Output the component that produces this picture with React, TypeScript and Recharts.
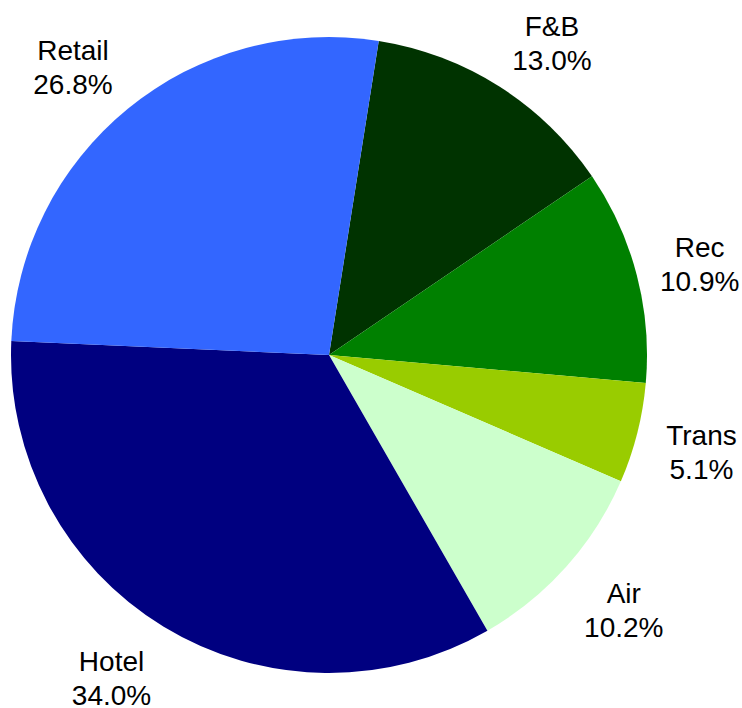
import React from 'react';
import { PieChart, Pie, Cell } from 'recharts';

const categories = ['F&B', 'Rec', 'Trans', 'Air', 'Hotel', 'Retail'];
const shares = [13.0, 10.9, 5.1, 10.2, 34.0, 26.8];
const colors = ['#003300', '#008000', '#99CC00', '#CCFFCC', '#000080', '#3366FF'];

const data = categories.map((name, i) => ({ name, value: shares[i] }));

const RAD = Math.PI / 180;
const FONT = 28;

function approxWidth(s: string) {
  // rough Arial advance widths
  let w = 0;
  for (const ch of s) {
    if ('0123456789'.includes(ch)) w += 0.556;
    else if (ch === '.') w += 0.278;
    else if (ch === '%') w += 0.889;
    else if ('il'.includes(ch)) w += 0.222;
    else if ('t'.includes(ch)) w += 0.278;
    else if ('FBTRH&'.includes(ch)) w += 0.7;
    else w += 0.556;
  }
  return w * FONT;
}

const renderLabel = (props: any) => {
  const { cx, cy, midAngle, outerRadius, name, value } = props;
  const cos = Math.cos(midAngle * RAD);
  const sin = Math.sin(midAngle * RAD);
  const pct = `${Number(value).toFixed(1)}%`;
  const a = Math.max(approxWidth(name), approxWidth(pct)) / 2;
  const b = 27;
  const R = outerRadius + 24;
  const px = cx + R * cos;
  const py = cy - R * sin;
  const sx = Math.max(-1, Math.min(1, cos * 3));
  const sy = Math.max(-1, Math.min(1, sin * 1.3));
  const bx = px + a * sx;
  const by = py - b * sy + 4;
  return (
    <text
      x={bx}
      y={by}
      textAnchor="middle"
      fill="#000"
      fontFamily="'Liberation Sans', Arial, sans-serif"
      fontSize={FONT}
    >
      <tspan x={bx} y={by - 7}>{name}</tspan>
      <tspan x={bx} y={by + 27}>{pct}</tspan>
    </text>
  );
};

export default function App() {
  return (
    <div style={{ position: 'absolute', left: 0, top: 0, width: 742, height: 708, background: '#fff' }}>
      <PieChart width={742} height={708} margin={{ top: 0, right: 0, bottom: 0, left: 0 }}>
        <Pie
          data={data}
          dataKey="value"
          nameKey="name"
          cx={329}
          cy={355}
          outerRadius={318}
          startAngle={81}
          endAngle={-279}
          stroke="none"
          label={renderLabel}
          labelLine={false}
          isAnimationActive={false}
        >
          {data.map((d, i) => (
            <Cell key={d.name} fill={colors[i]} />
          ))}
        </Pie>
      </PieChart>
    </div>
  );
}
